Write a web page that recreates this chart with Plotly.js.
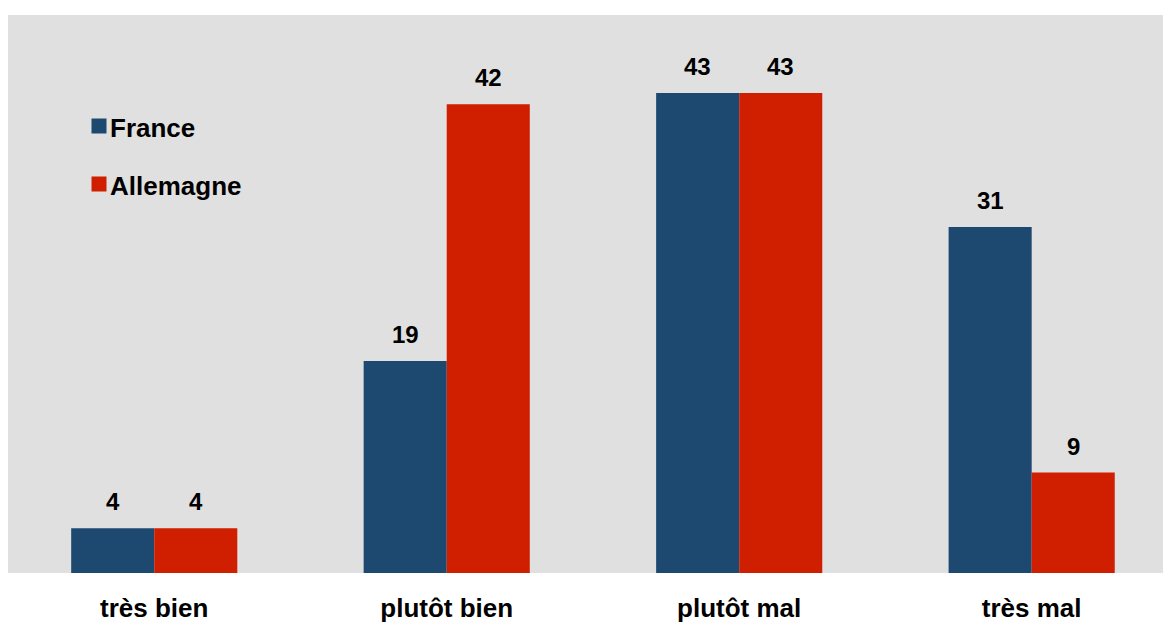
<!DOCTYPE html>
<html>
<head>
<meta charset="utf-8">
<script src="https://cdn.plot.ly/plotly-3.0.1.min.js"></script>
<style>
  html, body { margin: 0; padding: 0; background: #ffffff; }
  #chart { width: 1163px; height: 626px; }
</style>
</head>
<body>
<div id="chart"></div>
<script>
// Survey answers by country (percent)
const categories = ["très bien", "plutôt bien", "plutôt mal", "très mal"];
const seriesNames = ["France", "Allemagne"];
const franceValues = [4, 19, 43, 31];
const allemagneValues = [4, 42, 43, 9];
const seriesColors = ["#1d4970", "#cf1e00"];

const FONT = "Liberation Sans, Arial, sans-serif";
const seriesValues = [franceValues, allemagneValues];

const traces = seriesValues.map((vals, i) => ({
  type: "bar",
  name: seriesNames[i],
  x: categories,
  y: vals,
  marker: { color: seriesColors[i], line: { width: 0 } },
  showlegend: false,
  hoverinfo: "x+y+name"
}));

// value labels above each bar, offset half a bar width left/right of the category
const layoutWidth = 1163, marginL = 8, marginR = 0;
const xRange = [-0.5, 3.449];
const pxPerCat = (layoutWidth - marginL - marginR) / (xRange[1] - xRange[0]);
const bargap = 0.432;
const barPx = pxPerCat * (1 - bargap) / 2;

const annotations = [];
seriesValues.forEach((vals, i) => {
  vals.forEach((v, j) => {
    annotations.push({
      x: categories[j], y: v, xref: "x", yref: "y",
      text: "<b>" + v + "</b>",
      showarrow: false,
      xshift: (i === 0 ? -1 : 1) * barPx / 2,
      yanchor: "bottom",
      yshift: 11,
      font: { family: FONT, size: 24, color: "#000000" }
    });
  });
});

// legend: colored squares with series names
const legendTop = [126, 184];
seriesNames.forEach((name, i) => {
  annotations.push({
    xref: "paper", yref: "paper", x: (91 - marginL) / (layoutWidth - marginL - marginR),
    y: 1 - (legendTop[i] - 15) / 558,
    xanchor: "left", yanchor: "middle",
    text: " ", width: 14, height: 14, bgcolor: seriesColors[i],
    borderpad: 0, showarrow: false
  });
  annotations.push({
    xref: "paper", yref: "paper", x: (108 - marginL) / (layoutWidth - marginL - marginR),
    y: 1 - (legendTop[i] + 2 - 15) / 558,
    xanchor: "left", yanchor: "middle",
    text: "<b>" + name + "</b>", showarrow: false,
    font: { family: FONT, size: 26, color: "#000000" }
  });
});

const layout = {
  width: layoutWidth, height: 626,
  margin: { l: marginL, r: marginR, t: 15, b: 53, pad: 0 },
  paper_bgcolor: "#ffffff",
  plot_bgcolor: "#e0e0e0",
  barmode: "group",
  bargap: bargap,
  bargroupgap: 0,
  showlegend: false,
  xaxis: {
    type: "category",
    range: xRange,
    showgrid: false, zeroline: false, showline: false,
    ticks: "",
    ticklabelstandoff: 17,
    tickfont: { family: FONT, size: 26, color: "#000000", weight: "bold" },
    fixedrange: true
  },
  yaxis: {
    range: [0, 50],
    showgrid: false, zeroline: false, showline: false,
    showticklabels: false, ticks: "",
    fixedrange: true
  },
  annotations: annotations
};

Plotly.newPlot("chart", traces, layout, { displayModeBar: false, staticPlot: true });
</script>
</body>
</html>
